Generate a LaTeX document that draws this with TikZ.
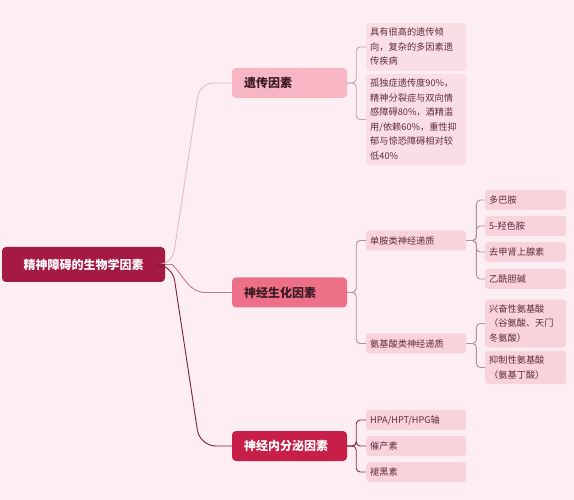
\documentclass[tikz,border=0pt]{standalone}
\usepackage{fontspec}
\setmainfont{Noto Sans CJK SC}
\usetikzlibrary{calc}

\definecolor{bgpink}{HTML}{FCEEF2}
\definecolor{rootred}{HTML}{A51A42}
\definecolor{genpink}{HTML}{F8B6C4}
\definecolor{biopink}{HTML}{EE7088}
\definecolor{endored}{HTML}{C71F47}
\definecolor{leafpink}{HTML}{F9D3DC}
\definecolor{leaftext}{HTML}{5E2B3B}
\definecolor{darktext}{HTML}{3A1A24}

\begin{document}
\begin{tikzpicture}[
    x=1pt, y=-1pt,
    root/.style={rectangle, fill=rootred, text=white, rounded corners=4pt, minimum width=163pt, minimum height=35pt, font=\fontsize{12}{14}\selectfont\bfseries},
    topic/.style={rectangle, rounded corners=4pt, text width=91pt, inner xsep=12pt, align=left, minimum height=30pt, font=\fontsize{12}{14}\selectfont\bfseries},
    leaf/.style={rectangle, fill=leafpink, rounded corners=3pt, text width=92pt, inner xsep=4pt, inner ysep=5pt, align=left, minimum height=20pt, anchor=west, text=leaftext, font=\fontsize{9.2}{14.5}\selectfont},
    subleaf/.style={leaf, text width=73pt},
    branch/.style={line width=0.9pt},
    bracket/.style={line width=0.9pt, rounded corners=4pt}
]
    % background and margins
    \fill[bgpink] (0,0) rectangle (574,500);

    % main nodes
    \node[root] (root) at (83.5,264.5) {精神障碍的生物学因素};
    \node[topic, fill=genpink, text=darktext] (gen) at (289.5,83) {遗传因素};
    \node[topic, fill=biopink, text=darktext] (bio) at (289.5,292.5) {神经生化因素};
    \node[topic, fill=endored, text=white] (endo) at (289.5,446) {神经内分泌因素};

    % genetics
    \node[leaf, fill=leafpink!75] (genA) at (366,47) {具有很高的遗传倾\\向，复杂的多因素遗\\传疾病};
    \node[leaf, fill=leafpink!75] (genB) at (366,119.5) {孤独症遗传度90\%，\\精神分裂症与双向情\\感障碍80\%，酒精滥\\用/依赖60\%，重性抑\\郁与惊恐障碍相对较\\低40\%};

    % neurochemistry
    \node[leaf] (mono) at (366,240.5) {单胺类神经递质};
    \node[leaf] (amino) at (366,343.5) {氨基酸类神经递质};
    \node[subleaf] (dopa) at (485,200) {多巴胺};
    \node[subleaf] (sero) at (485,226) {5-羟色胺};
    \node[subleaf] (nore) at (485,252) {去甲肾上腺素};
    \node[subleaf] (ach) at (485,279) {乙酰胆碱};
    \node[subleaf] (exc) at (485,323.5) {兴奋性氨基酸\\（谷氨酸、天门\\冬氨酸）};
    \node[subleaf] (inh) at (485,367.5) {抑制性氨基酸\\（氨基丁酸）};

    % neuroendocrine
    \node[leaf] (hpa) at (366,420) {HPA/HPT/HPG轴};
    \node[leaf] (oxy) at (366,446) {催产素};
    \node[leaf] (mel) at (366,472) {褪黑素};

    % root branches
    \draw[branch, color={rgb,255:red,227;green,189;blue,199}, rounded corners=14pt] (root.east) -- ++(7,0) -- ($(gen.west)+(-32,0)$) -- (gen.west);
    \draw[branch, color={rgb,255:red,196;green,122;blue,140}] (root.east) -- ++(7,0) to[out=-45,in=180] ($(bio.west)+(-26,0)$) -- (bio.west);
    \draw[branch, color={rgb,255:red,125;green,31;blue,55}, rounded corners=16pt] (root.east) -- ++(7,0) -- ($(endo.west)+(-32,0)$) -- (endo.west);

    % brackets
    \foreach \c in {genA,genB}
        \draw[bracket, color={rgb,255:red,199;green,162;blue,173}] (gen.east) -- ++(9,0) |- (\c.west);
    \foreach \c in {mono,amino}
        \draw[bracket, color={rgb,255:red,184;green,138;blue,151}] (bio.east) -- ++(9,0) |- (\c.west);
    \foreach \c in {dopa,sero,nore,ach}
        \draw[bracket, color={rgb,255:red,181;green,142;blue,154}] (mono.east) -- ++(10,0) |- (\c.west);
    \foreach \c in {exc,inh}
        \draw[bracket, color={rgb,255:red,181;green,142;blue,154}] (amino.east) -- ++(10,0) |- (\c.west);
    \foreach \c in {hpa,oxy,mel}
        \draw[bracket, color={rgb,255:red,139;green,42;blue,67}] (endo.east) -- ++(9,0) |- (\c.west);
\end{tikzpicture}
\end{document}
